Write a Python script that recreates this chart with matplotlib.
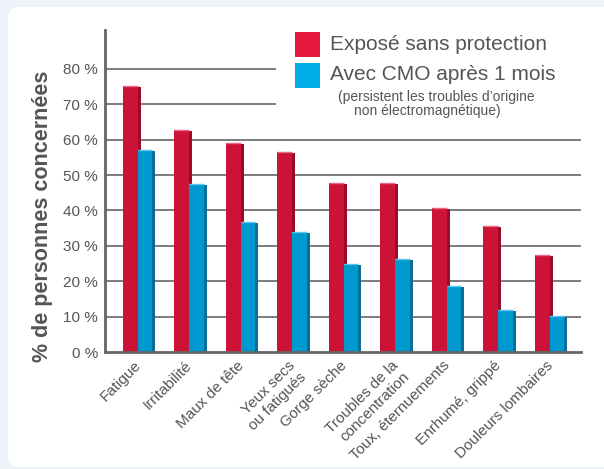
import matplotlib
matplotlib.use("Agg")
import matplotlib.pyplot as plt
import numpy as np
from matplotlib.patches import FancyBboxPatch, Rectangle
from matplotlib.transforms import IdentityTransform

plt.rcParams['font.family'] = ['Liberation Sans', 'DejaVu Sans']

# donnees
categories = ["Fatigue", "Irritabilité", "Maux de tête", "Yeux secs\nou fatigués",
              "Gorge sèche", "Troubles de la\nconcentration", "Toux, éternuements",
              "Enrhumé, grippé", "Douleurs lombaires"]
expose = [75.2, 62.8, 59.2, 56.5, 47.9, 47.9, 40.8, 35.5, 27.5]
avec_cmo = [57.1, 47.5, 36.7, 33.9, 25.0, 26.3, 18.7, 11.8, 10.3]
y_ticks = [0, 10, 20, 30, 40, 50, 60, 70, 80]
y_labels = ["%d %%" % v for v in y_ticks]

W, H = 604, 469
gris = '#555555'
rouge, rouge_cote, rouge_haut = '#cc1236', '#9c0a2a', '#e86a85'
bleu, bleu_cote, bleu_haut = '#0099cf', '#0a6e96', '#5cc6ea'

fig = plt.figure(figsize=(W / 100, H / 100), dpi=100, facecolor='#eef3f9')

# panneau blanc arrondi
panneau = FancyBboxPatch((8, H - 467), W + 20, 460, boxstyle="round,pad=0,rounding_size=12",
                         transform=IdentityTransform(), facecolor='white', edgecolor='none',
                         zorder=-5)
fig.add_artist(panneau)

ax = fig.add_axes([105 / W, (H - 352) / H, 476 / W, 322 / H])
ax.set_facecolor('none')

x = np.arange(len(categories))
lf, lc = 0.29, 0.06

# barres rouges (avec cote plus sombre)
ax.bar(x, np.array(expose) - 0.3, width=lc, align='edge', color=rouge_cote, zorder=3)
ax.bar(x - lf, expose, width=lf, align='edge', color=rouge, zorder=3)
ax.hlines(expose, x - lf, x, color=rouge_haut, lw=1, zorder=4)

# barres bleues
ax.bar(x + 0.28, np.array(avec_cmo) - 0.3, width=lc, align='edge', color=bleu_cote, zorder=5)
ax.bar(x, avec_cmo, width=0.28, align='edge', color=bleu, zorder=5)
ax.hlines(avec_cmo, x, x + 0.28, color=bleu_haut, lw=1, zorder=6)

xmin, xmax = -0.635, 8.61
ax.set_xlim(xmin, xmax)
ax.set_ylim(0, 91)

# lignes de grille (les deux du haut s'arretent avant la legende)
for v in y_ticks[1:]:
    fin = 2.69 if v >= 70 else xmax
    ax.hlines(v, xmin, fin, color='#666666', lw=1.2, zorder=1)

for s in ['top', 'right']:
    ax.spines[s].set_visible(False)
for s in ['left', 'bottom']:
    ax.spines[s].set_color('#666666')
    ax.spines[s].set_linewidth(2)
    ax.spines[s].set_zorder(7)

ax.set_yticks(y_ticks)
ax.set_yticklabels(y_labels, fontsize=11, color=gris)
ax.tick_params(axis='y', length=0, pad=5)

ax.set_xticks(x - 0.08)
ax.set_xticklabels(categories, fontsize=11, color=gris)
ax.tick_params(axis='x', length=0, pad=4.5)
for lbl in ax.get_xticklabels():
    lbl.set_rotation(45)
    lbl.set_rotation_mode('anchor')
    lbl.set_ha('right')
    lbl.set_va('top')
    lbl.set_multialignment('right')

ax.set_ylabel("% de personnes concernées", fontsize=15.5, fontweight='bold', color=gris)
ax.yaxis.set_label_coords(-0.11, 0.42)

# legende
def px(xp, yp):
    return xp / W, 1 - yp / H

fig.add_artist(Rectangle(px(295, 57), 25 / W, 25 / H, transform=fig.transFigure,
                         facecolor='#e8193f', edgecolor='none'))
fig.add_artist(Rectangle(px(295, 88), 25 / W, 25 / H, transform=fig.transFigure,
                         facecolor='#00ade8', edgecolor='none'))
fig.text(*px(330, 45), "Exposé sans protection", fontsize=15, color=gris, va='center')
fig.text(*px(330, 75), "Avec CMO après 1 mois", fontsize=15, color=gris, va='center')
fig.text(*px(338, 97), "(persistent les troubles d’origine", fontsize=10, color=gris, va='center')
fig.text(*px(354, 111), "non électromagnétique)", fontsize=10, color=gris, va='center')

fig.savefig("out.png", dpi=100, facecolor=fig.get_facecolor())
